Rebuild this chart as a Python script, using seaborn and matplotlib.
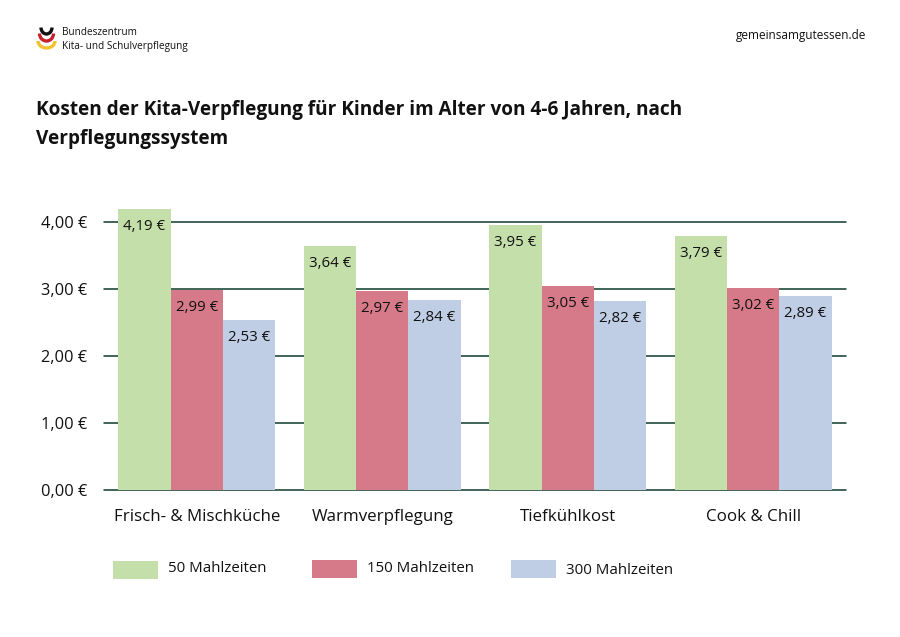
"""Kita-Verpflegung cost chart, grouped bars by meal count."""
import matplotlib

matplotlib.use("Agg")
import matplotlib.pyplot as plt
import pandas as pd
import seaborn as sns
from matplotlib.patches import Arc, Rectangle

systems = ["Frisch- & Mischküche", "Warmverpflegung", "Tiefkühlkost", "Cook & Chill"]
meal_counts = ["50 Mahlzeiten", "150 Mahlzeiten", "300 Mahlzeiten"]
costs_50 = [4.19, 3.64, 3.95, 3.79]
costs_150 = [2.99, 2.97, 3.05, 3.02]
costs_300 = [2.53, 2.84, 2.82, 2.89]
y_ticks = [0, 1, 2, 3, 4]
colors = ["#c5dfaa", "#d67a89", "#bfcde5"]

W, H = 900, 637

sns.set_theme(style="white")
plt.rcParams["font.family"] = ["Open Sans", "DejaVu Sans"]

df = pd.DataFrame(
    {
        "system": systems * 3,
        "meals": [m for m in meal_counts for _ in systems],
        "cost": costs_50 + costs_150 + costs_300,
    }
)

fig = plt.figure(figsize=(W / 100, H / 100), dpi=100)
# axes placed in pixels so the baseline and gridlines land on the reference
y0_px, y4_px = 489.5, 222.0
px_per_unit = (y0_px - y4_px) / 4
top_val = 4.4
ax = fig.add_axes(
    [104 / W, (H - y0_px) / H, (846 - 104) / W, top_val * px_per_unit / H]
)

sns.barplot(
    data=df,
    x="system",
    y="cost",
    hue="meals",
    order=systems,
    hue_order=meal_counts,
    palette=colors,
    saturation=1,
    width=0.846,
    gap=0,
    legend=False,
    linewidth=0,
    ax=ax,
    zorder=3,
)

ax.set_xlim(-0.5, 3.5)
ax.set_ylim(0, top_val)
ax.set_xlabel("")
ax.set_ylabel("")
ax.set_yticks(y_ticks)
ax.set_yticklabels([f"{v},00 €" for v in y_ticks], fontsize=11.8, color="#111111")
ax.tick_params(axis="y", length=0, pad=12)
ax.tick_params(axis="x", length=0, pad=14, labelsize=12.2, labelcolor="#111111")
ax.grid(axis="y", color="#0c3a28", linewidth=1.1, zorder=0)
ax.set_axisbelow(True)
for line in ax.get_ygridlines():
    line.set_clip_on(False)
sns.despine(ax=ax, left=True, bottom=True, top=True, right=True)

for container in ax.containers:
    labels = [f"{b.get_height():.2f} €".replace(".", ",") for b in container]
    ax.bar_label(
        container,
        labels=labels,
        label_type="edge",
        padding=-18,
        fontsize=10.8,
        color="#111111",
        zorder=5,
    )

# overlay in pixel coordinates for header, footer legend and logo
over = fig.add_axes([0, 0, 1, 1], zorder=10)
over.set_xlim(0, W)
over.set_ylim(H, 0)
over.axis("off")
over.patch.set_alpha(0)

over.text(
    36, 110, "Kosten der Kita-Verpflegung für Kinder im Alter von 4-6 Jahren, nach",
    fontsize=13.7, fontweight="bold", color="#111111", va="center",
)
over.text(
    36, 139, "Verpflegungssystem",
    fontsize=13.7, fontweight="bold", color="#111111", va="center",
)
over.text(866, 36, "gemeinsamgutessen.de", fontsize=8.5, color="#111111",
          ha="right", va="center")
over.text(62, 32.5, "Bundeszentrum", fontsize=7.2, color="#111111", va="center")
over.text(62, 46, "Kita- und Schulverpflegung", fontsize=7.2, color="#111111", va="center")

# logo: three stacked arcs in the German flag colours
for cy, w, h, col in [
    (27.5, 11, 13, "#111111"),
    (33.5, 14, 15, "#c8202c"),
    (41, 17, 14, "#f2c230"),
]:
    over.add_patch(Arc((46.5, cy), w, h, theta1=0, theta2=180, color=col, linewidth=2.4))

legend_pos = [(113, 561, 569), (312, 560, 569), (511, 560, 571)]
for (x, y, ty), label, col in zip(legend_pos, meal_counts, colors):
    over.add_patch(Rectangle((x, y), 45, 18, facecolor=col, edgecolor="none"))
    over.text(x + 55, ty, label, fontsize=10.8, color="#111111", va="center")

fig.savefig("out.png", dpi=100, facecolor="white")
